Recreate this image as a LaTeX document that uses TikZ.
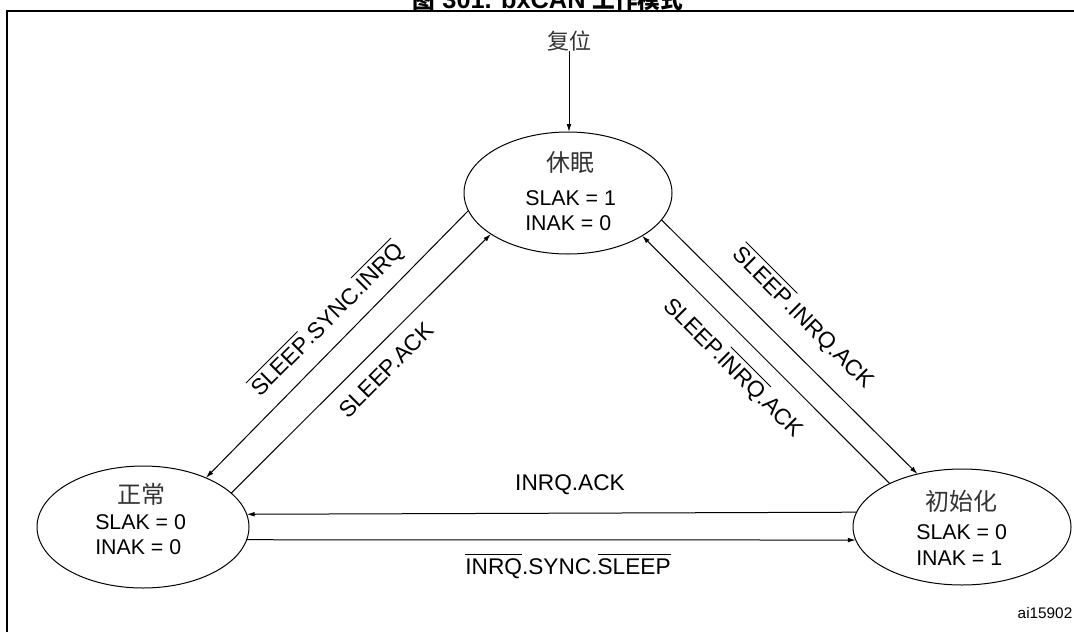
\documentclass[tikz,border=0pt]{standalone}
\usepackage{fontspec}
\setmainfont{Liberation Sans}
\newfontfamily\cjk{Noto Sans CJK SC}
\usetikzlibrary{shapes.geometric,arrows.meta}
\newcommand\ovl[1]{\leavevmode\setbox0=\hbox{#1}\rlap{\raisebox{\dimexpr\ht0+3pt\relax}{\rule{\wd0}{0.6pt}}}\box0}
\begin{document}
\begin{tikzpicture}[x=0.75pt,y=-0.75pt,
  state/.style={draw, ellipse, line width=0.75pt, inner sep=0pt, outer sep=0pt},
  arr/.style={-{Latex[length=6pt,width=3.6pt]}, line width=0.75pt},
  lbl/.style={font=\fontsize{17}{20}\selectfont, inner sep=0pt},
  val/.style={font=\fontsize{16}{19}\selectfont, inner sep=0pt, anchor=west},
  zh/.style={font=\fontsize{18}{20}\cjk, text=black!80, inner sep=0pt}]
\useasboundingbox (0,0) rectangle (1074,632);
% frame and title
\coordinate (fbl) at (7,632);
\coordinate (ftl) at (7,11);
\coordinate (ftr) at (1074,11);
\draw[line width=1.5pt] (fbl) -- (ftl) -- (ftr);
\node[anchor=base, inner sep=0pt, font=\fontsize{19}{21}\selectfont\bfseries] (title) at (548,8.5) {{\cjk\fontsize{17}{19}\selectfont 图} 301. bxCAN {\cjk\fontsize{17}{19}\selectfont 工作模式}};
% states
\node[state, minimum width=156pt, minimum height=91.5pt] (sleep) at (568,193) {};
\node[state, minimum width=159pt, minimum height=91.5pt] (normal) at (143,527) {};
\node[state, minimum width=163.5pt, minimum height=87pt] (init) at (962,527) {};
\node[zh] (sleepzh) at (570,162) {休眠};
\node[val] (sleeps) at (525,198) {SLAK = 1};
\node[val] (sleepi) at (525,223) {INAK = 0};
\node[zh] (normalzh) at (141,494) {正常};
\node[val] (normals) at (95,522) {SLAK = 0};
\node[val] (normali) at (95,547) {INAK = 0};
\node[zh] (initzh) at (961,501) {初始化};
\node[val] (inits) at (916,532) {SLAK = 0};
\node[val] (initi) at (916,558) {INAK = 1};
% reset
\node[zh, font=\fontsize{16.5}{18}\cjk] (reset) at (569,41) {复位};
\draw[arr] (reset.south) -- (reset.south |- sleep.north);
% transitions
\draw[arr] (sleep.190.8) -- (normal.38.6);
\draw[arr] (normal.21.4) -- (sleep.208.5);
\draw[arr] (sleep.344.7) -- (init.130);
\draw[arr] (init.149) -- (sleep.330);
\draw[arr] (init.172.5) -- (normal.7.5);
\draw[arr] (normal.-7) -- (init.187);
% labels
\node[lbl, rotate=45] (l1) at (327,319) {\ovl{SLEEP}.SYNC.\ovl{INRQ}};
\node[lbl, rotate=45] (l2) at (386,370) {SLEEP.ACK};
\node[lbl, rotate=-45] (la) at (804,317) {\ovl{SLEEP}.INRQ.ACK};
\node[lbl, rotate=-45] (lb) at (734,367) {SLEEP.\ovl{INRQ}.ACK};
\node[lbl] (lh1) at (570,485) {INRQ.ACK};
\node[lbl] (lh2) at (568,566) {\ovl{INRQ}.SYNC.\ovl{SLEEP}};
\node[font=\fontsize{11.5}{13}\selectfont, inner sep=0pt] (code) at (1045,613) {ai15902};
\end{tikzpicture}
\end{document}
